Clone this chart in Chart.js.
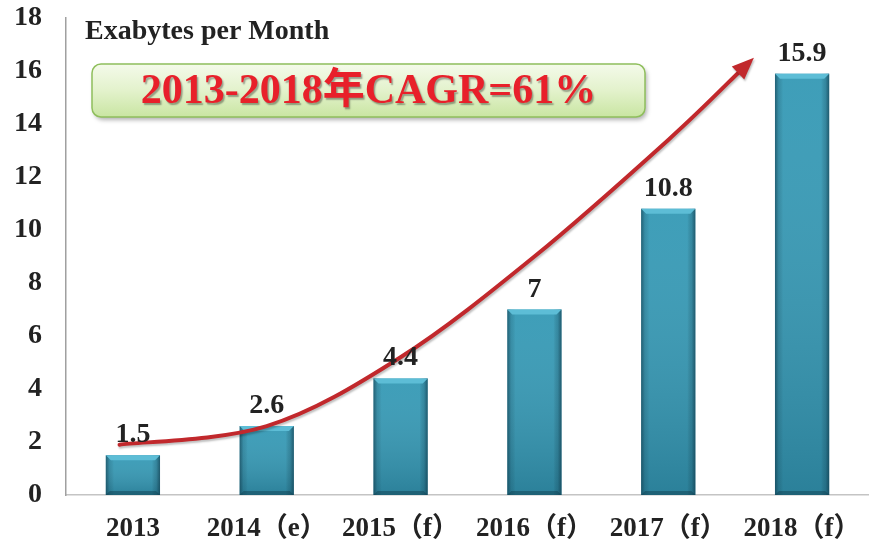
<!DOCTYPE html>
<html>
<head>
<meta charset="utf-8">
<script src="https://cdn.jsdelivr.net/npm/chart.js@4.4.0/dist/chart.umd.min.js"></script>
<style>
  html, body { margin: 0; padding: 0; background: #fff; }
  #wrap { width: 869px; height: 545px; position: relative; }
</style>
</head>
<body>
<div id="wrap"><canvas id="c"></canvas></div>
<script>
// Mobile data traffic forecast — bevelled bars, growth arrow, CAGR badge.
const categories = ["2013", "2014（e）", "2015（f）", "2016（f）", "2017（f）", "2018（f）"];
const traffic = [1.5, 2.6, 4.4, 7, 10.8, 15.9];
const yTicks = [0, 2, 4, 6, 8, 10, 12, 14, 16, 18];
const unitTitle = "Exabytes per Month";
const cagrText = "2013-2018年CAGR=61%";
// growth arrow path in (category index, value) space
const arrowIdx = [-0.1, 1, 2, 3, 4, 4.64];
const arrowVal = [1.9, 2.6, 5.2, 9.0, 13.4, 16.5];

const SERIF = "'Liberation Serif', 'Times New Roman', 'Noto Sans CJK SC', serif";
const INK = "#222";

const bevelBars = {
  id: "bevelBars",
  afterDatasetsDraw(chart) {
    const ctx = chart.ctx;
    const meta = chart.getDatasetMeta(0);
    meta.data.forEach((bar) => {
      const { x, y, base, width } = bar.getProps(["x", "y", "base", "width"], true);
      const l = x - width / 2, r = x + width / 2, h = base - y;
      ctx.save();
      // top-to-bottom darkening
      const gv = ctx.createLinearGradient(0, y, 0, base);
      gv.addColorStop(0, "rgba(255,255,255,0.05)");
      gv.addColorStop(1, "rgba(10,40,55,0.22)");
      ctx.fillStyle = gv;
      ctx.fillRect(l, y, width, h);
      // side shading
      const g = ctx.createLinearGradient(l, 0, r, 0);
      g.addColorStop(0, "rgba(10,45,60,0.55)");
      g.addColorStop(0.07, "rgba(10,45,60,0.15)");
      g.addColorStop(0.15, "rgba(0,0,0,0)");
      g.addColorStop(0.85, "rgba(0,0,0,0)");
      g.addColorStop(0.93, "rgba(10,45,60,0.2)");
      g.addColorStop(1, "rgba(10,45,60,0.6)");
      ctx.fillStyle = g;
      ctx.fillRect(l, y, width, h);
      // top bevel
      const b = 5;
      ctx.beginPath();
      ctx.moveTo(l, y);
      ctx.lineTo(r, y);
      ctx.lineTo(r - b, y + b);
      ctx.lineTo(l + b, y + b);
      ctx.closePath();
      ctx.fillStyle = "#5dbdd6";
      ctx.fill();
      // bottom bevel
      ctx.beginPath();
      ctx.moveTo(l, base);
      ctx.lineTo(r, base);
      ctx.lineTo(r - 4, base - 4);
      ctx.lineTo(l + 4, base - 4);
      ctx.closePath();
      ctx.fillStyle = "rgba(15,60,75,0.45)";
      ctx.fill();
      ctx.restore();
    });
  },
};

const valueLabels = {
  id: "valueLabels",
  afterDatasetsDraw(chart) {
    const ctx = chart.ctx;
    const meta = chart.getDatasetMeta(0);
    ctx.save();
    ctx.font = `bold 28px ${SERIF}`;
    ctx.fillStyle = INK;
    ctx.textAlign = "center";
    ctx.textBaseline = "alphabetic";
    meta.data.forEach((bar, i) => {
      ctx.fillText(String(traffic[i]), bar.x, bar.y - 13);
    });
    ctx.restore();
  },
};

function splinePath(ctx, pts) {
  ctx.moveTo(pts[0][0], pts[0][1]);
  for (let i = 0; i < pts.length - 1; i++) {
    const p0 = pts[i - 1] || pts[i];
    const p1 = pts[i], p2 = pts[i + 1];
    const p3 = pts[i + 2] || p2;
    const c1x = p1[0] + (p2[0] - p0[0]) / 6, c1y = p1[1] + (p2[1] - p0[1]) / 6;
    const c2x = p2[0] - (p3[0] - p1[0]) / 6, c2y = p2[1] - (p3[1] - p1[1]) / 6;
    ctx.bezierCurveTo(c1x, c1y, c2x, c2y, p2[0], p2[1]);
  }
}

const growthArrow = {
  id: "growthArrow",
  afterDatasetsDraw(chart) {
    const { ctx, scales: { x, y } } = chart;
    const step = x.getPixelForValue(1) - x.getPixelForValue(0);
    const x0 = x.getPixelForValue(0);
    const pts = arrowIdx.map((v, i) => [x0 + v * step, y.getPixelForValue(arrowVal[i])]);
    const tip = pts[pts.length - 1];
    const prev = pts[pts.length - 2];
    const ang = Math.atan2(tip[1] - prev[1], tip[0] - prev[0]);
    const headLen = 22, headW = 9;
    // stop the line a bit before the tip so the head covers it
    const line = pts.slice();
    line[line.length - 1] = [tip[0] - Math.cos(ang) * headLen * 0.8, tip[1] - Math.sin(ang) * headLen * 0.8];
    ctx.save();
    ctx.shadowColor = "rgba(0,0,0,0.25)";
    ctx.shadowOffsetX = 1;
    ctx.shadowOffsetY = 2;
    ctx.shadowBlur = 2;
    ctx.strokeStyle = "#c1282c";
    ctx.lineWidth = 4;
    ctx.lineCap = "round";
    ctx.beginPath();
    splinePath(ctx, line);
    ctx.stroke();
    ctx.fillStyle = "#c1282c";
    ctx.beginPath();
    ctx.moveTo(tip[0], tip[1]);
    const bx = tip[0] - Math.cos(ang) * headLen, by = tip[1] - Math.sin(ang) * headLen;
    ctx.lineTo(bx + Math.sin(ang) * headW, by - Math.cos(ang) * headW);
    ctx.lineTo(bx - Math.sin(ang) * headW, by + Math.cos(ang) * headW);
    ctx.closePath();
    ctx.fill();
    ctx.restore();
  },
};

const badge = {
  id: "badge",
  afterDraw(chart) {
    const ctx = chart.ctx;
    const ca = chart.chartArea;
    ctx.save();
    // unit title
    ctx.font = `bold 28px ${SERIF}`;
    ctx.fillStyle = INK;
    ctx.textAlign = "left";
    ctx.textBaseline = "middle";
    ctx.fillText(unitTitle, ca.left + 19, 32);
    // CAGR box
    const bx = ca.left + 26, by = 64, bw = 553, bh = 53;
    ctx.save();
    ctx.shadowColor = "rgba(0,0,0,0.3)";
    ctx.shadowOffsetX = 2;
    ctx.shadowOffsetY = 3;
    ctx.shadowBlur = 4;
    const g = ctx.createLinearGradient(0, by, 0, by + bh);
    g.addColorStop(0, "#f4faea");
    g.addColorStop(0.5, "#e3f2cc");
    g.addColorStop(1, "#c9e5a2");
    ctx.fillStyle = g;
    ctx.beginPath();
    ctx.roundRect(bx, by, bw, bh, 9);
    ctx.fill();
    ctx.restore();
    ctx.strokeStyle = "#8fbf5c";
    ctx.lineWidth = 1.5;
    ctx.beginPath();
    ctx.roundRect(bx, by, bw, bh, 9);
    ctx.stroke();
    ctx.shadowColor = "rgba(0,0,0,0.35)";
    ctx.shadowOffsetX = 1.5;
    ctx.shadowOffsetY = 1.5;
    ctx.shadowBlur = 1.5;
    ctx.font = `bold 42px ${SERIF}`;
    ctx.fillStyle = "#e8202a";
    ctx.textAlign = "center";
    ctx.textBaseline = "middle";
    ctx.fillText(cagrText, bx + bw / 2, by + bh / 2 + 2);
    ctx.restore();
  },
};

new Chart(document.getElementById("c"), {
  type: "bar",
  data: {
    labels: categories,
    datasets: [{
      data: traffic,
      backgroundColor: "#3499b5",
      borderWidth: 0,
      barPercentage: 0.405,
      categoryPercentage: 1,
    }],
  },
  options: {
    responsive: true,
    maintainAspectRatio: false,
    animation: false,
    layout: { padding: { top: 18, right: 0, left: 0, bottom: 0 } },
    plugins: { legend: { display: false }, tooltip: { enabled: false } },
    scales: {
      x: {
        grid: { display: false, drawTicks: false },
        border: { display: true, color: "#c4c4c4", width: 1.5 },
        ticks: {
          font: { family: SERIF, size: 27, weight: "bold" },
          color: INK,
          padding: 18,
          maxRotation: 0,
          autoSkip: false,
        },
        afterFit: (s) => { s.height = 50; s.paddingLeft = 0; s.paddingRight = 0; },
      },
      y: {
        min: 0,
        max: 18,
        afterBuildTicks: (s) => { s.ticks = yTicks.map((v) => ({ value: v })); },
        grid: { display: false, drawTicks: false },
        border: { display: true, color: "#a0a0a0", width: 1.5 },
        ticks: {
          font: { family: SERIF, size: 28, weight: "bold" },
          color: INK,
          padding: 24,
        },
        afterFit: (s) => { s.width = 66; s.paddingTop = 0; s.paddingBottom = 0; },
      },
    },
  },
  plugins: [bevelBars, growthArrow, valueLabels, badge],
});
</script>
</body>
</html>
